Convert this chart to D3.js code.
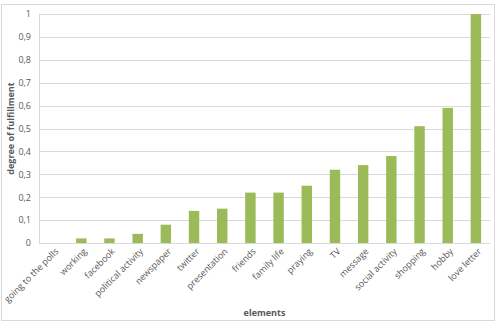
<!DOCTYPE html>
<html>
<head>
<meta charset="utf-8">
<script src="https://cdn.jsdelivr.net/npm/d3@7"></script>
<style>
  body { margin: 0; background: #fff; }
  text { font-family: "Open Sans", "Liberation Sans", sans-serif; fill: #595959; }
</style>
</head>
<body>
<svg id="chart"></svg>
<script>
const categories = ["going to the polls", "working", "facebook", "political activity", "newspaper",
  "twitter", "presentation", "friends", "family life", "praying", "TV", "message",
  "social activity", "shopping", "hobby", "love letter"]
const values = [0, 0.02, 0.02, 0.04, 0.08, 0.14, 0.15, 0.22, 0.22, 0.25, 0.32, 0.34, 0.38, 0.51, 0.59, 1]
const yTicks = [0, 0.1, 0.2, 0.3, 0.4, 0.5, 0.6, 0.7, 0.8, 0.9, 1]

const W = 498, H = 323
const margin = {top: 14, right: 8, bottom: 80, left: 39}
const width = W - margin.left - margin.right
const height = H - margin.top - margin.bottom

const svg = d3.select('#chart').attr('width', W).attr('height', H)

// chart frame
svg.append('rect')
  .attr('x', 1.5).attr('y', 4.5)
  .attr('width', W - 5).attr('height', H - 7)
  .attr('fill', 'none').attr('stroke', '#d9d9d9')

const chart = svg.append('g').attr('transform', `translate(${margin.left},${margin.top})`)

const xScale = d3.scaleBand().domain(categories).range([0, width]).paddingInner(0.63).paddingOuter(0.315)
const yScale = d3.scaleLinear().domain([0, 1]).range([height, 0])

const fmt = d => d === 0 || d === 1 ? String(d) : d.toFixed(1).replace('.', ',')

// gridlines
chart.append('g').selectAll('line')
  .data(yTicks)
  .join('line')
    .attr('x1', 0).attr('x2', width)
    .attr('y1', d => Math.round(yScale(d)) + 0.5).attr('y2', d => Math.round(yScale(d)) + 0.5)
    .attr('stroke', '#d9d9d9')

// y axis line
chart.append('line')
  .attr('x1', 0.5).attr('x2', 0.5).attr('y1', 0).attr('y2', height)
  .attr('stroke', '#d9d9d9')

const yAxisG = chart.append('g')
  .call(d3.axisLeft(yScale).tickValues(yTicks).tickFormat(fmt).tickSize(0).tickPadding(8))
yAxisG.select('.domain').remove()
yAxisG.selectAll('text').attr('font-size', 9).attr('fill', '#404040')

// bars
chart.selectAll('.bar')
  .data(values)
  .join('rect')
    .attr('class', 'bar')
    .attr('x', (d, i) => xScale(categories[i]))
    .attr('y', d => yScale(d))
    .attr('width', xScale.bandwidth())
    .attr('height', d => height - yScale(d))
    .attr('fill', '#9bbb59')

// category labels, rotated 45 degrees
chart.append('g').selectAll('.xlabel')
  .data(categories)
  .join('g')
    .attr('class', 'xlabel')
    .attr('transform', d => `translate(${xScale(d) + xScale.bandwidth() / 2 + 6},${height + 9})`)
  .append('text')
    .attr('transform', 'rotate(-45)')
    .attr('text-anchor', 'end')
    .attr('font-size', 9)
    .attr('fill', '#404040')
    .text(d => d)

// axis titles
svg.append('text')
  .attr('x', margin.left + width / 2).attr('y', 316)
  .attr('text-anchor', 'middle')
  .attr('font-size', 9).attr('font-weight', 'bold')
  .attr('fill', '#404040')
  .text('elements')

svg.append('text')
  .attr('transform', `translate(14,${margin.top + height / 2}) rotate(-90)`)
  .attr('text-anchor', 'middle')
  .attr('font-size', 9).attr('font-weight', 'bold')
  .attr('fill', '#404040')
  .text('degree of fulfillment')
</script>
</body>
</html>
